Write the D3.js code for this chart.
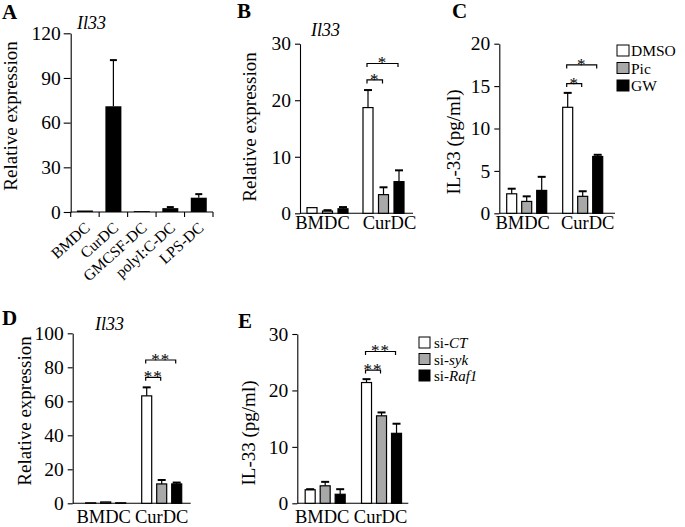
<!DOCTYPE html>
<html><head><meta charset="utf-8">
<script src="https://cdn.jsdelivr.net/npm/d3@7"></script>
<style>
body{margin:0;background:#fff;}
svg{display:block;font-family:"Liberation Serif","Times New Roman",serif;}
</style></head><body>
<svg id="c" width="685" height="527"></svg>
<script>
// ---------- data ----------
const catsA = ["BMDC", "CurDC", "GMCSF-DC", "polyI:C-DC", "LPS-DC"];
const meanA = [1.0, 71, 0.6, 2.6, 9.6];
const sdA = [0.2, 31, 0.2, 0.7, 2.4];
const ticksA = [0, 30, 60, 90, 120];

const groups = ["BMDC", "CurDC"];
const seriesC = ["DMSO", "Pic", "GW"];
const seriesE = [["si-", "CT"], ["si-", "syk"], ["si-", "Raf1"]];

const meanB = [[1.0, 0.4, 0.8], [18.7, 3.3, 5.6]];
const sdB = [[0, 0.15, 0.3], [3.1, 1.3, 2.0]];
const ticksB = [0, 10, 20, 30];

const meanC = [[2.3, 1.4, 2.7], [12.5, 2.0, 6.7]];
const sdC = [[0.6, 0.6, 1.6], [1.7, 0.6, 0.2]];
const ticksC = [0, 5, 10, 15, 20];

const meanD = [[0.3, 0.8, 0.3], [63.2, 11.4, 11.4]];
const sdD = [[0.1, 0.2, 0.1], [5.0, 2.3, 0.8]];
const ticksD = [0, 20, 40, 60, 80, 100];

const meanE = [[2.4, 3.1, 1.6], [21.4, 15.5, 12.4]];
const sdE = [[0.1, 0.7, 0.9], [0.6, 0.6, 1.7]];
const ticksE = [0, 10, 20, 30];

// significance: [label, fromSeries, toSeries] within CurDC
const sigB = [["*", 0, 2], ["*", 0, 1]];
const sigC = [["*", 0, 2], ["*", 0, 1]];
const sigD = [["**", 0, 2], ["**", 0, 1]];
const sigE = [["**", 0, 2], ["**", 0, 1]];

const fills = ["#ffffff", "#a8a8a8", "#000000"];
const FONT = "'Liberation Serif','Times New Roman',serif";

const svg = d3.select("#c").attr("font-family", FONT);

function styleAxis(sel) {
  sel.attr("font-family", FONT).attr("font-size", 19.5);
  sel.selectAll("path,line").attr("stroke", "#000").attr("stroke-width", 1.1);
  sel.selectAll("text").attr("fill", "#000");
}

function letter(t, x, y) {
  svg.append("text").attr("x", x).attr("y", y).attr("font-weight", "bold")
    .attr("font-size", 21).text(t);
}

function yTitle(t, x, y) {
  svg.append("text").attr("transform", `translate(${x},${y}) rotate(-90)`)
    .attr("text-anchor", "middle").attr("font-size", 19).text(t);
}

function gene(x, y) {
  svg.append("text").attr("x", x).attr("y", y).attr("font-style", "italic")
    .attr("font-size", 18).text("Il33");
}

function errBar(g, cx, yTop, yErr, cap) {
  if (Math.abs(yTop - yErr) < 0.5) return;
  g.append("line").attr("x1", cx).attr("x2", cx).attr("y1", yTop).attr("y2", yErr)
    .attr("stroke", "#000").attr("stroke-width", 1.2);
  g.append("line").attr("x1", cx - cap / 2).attr("x2", cx + cap / 2).attr("y1", yErr).attr("y2", yErr)
    .attr("stroke", "#000").attr("stroke-width", 2);
}

// ---------- panel A ----------
(function () {
  const g = svg.append("g");
  const cfg = { ax: 70.7, end: 213, y0: 212, y1: 33.3 };
  const y = d3.scaleLinear().domain([0, ticksA[ticksA.length - 1]]).range([cfg.y0, cfg.y1]);
  const x = d3.scaleBand().domain(catsA).range([cfg.ax, cfg.end]);
  const ya = g.append("g").attr("transform", `translate(${cfg.ax},0)`)
    .call(d3.axisLeft(y).tickValues(ticksA).tickSize(7).tickSizeOuter(0).tickPadding(3));
  styleAxis(ya);
  g.append("line").attr("x1", cfg.ax).attr("x2", cfg.end).attr("y1", y(0)).attr("y2", y(0))
    .attr("stroke", "#000").attr("stroke-width", 1.1);
  const bounds = catsA.map(c => x(c)).concat([cfg.end]);
  g.selectAll(".tk").data(bounds).join("line")
    .attr("x1", d => d).attr("x2", d => d).attr("y1", y(0)).attr("y2", y(0) + 5)
    .attr("stroke", "#000").attr("stroke-width", 1.1);
  const bw = 16;
  g.selectAll(".bar").data(catsA).join("rect")
    .attr("x", d => x(d) + x.bandwidth() / 2 - bw / 2)
    .attr("y", (d, i) => y(meanA[i]))
    .attr("width", bw)
    .attr("height", (d, i) => y(0) - y(meanA[i]))
    .attr("fill", "#000");
  catsA.forEach((c, i) => {
    errBar(g, x(c) + x.bandwidth() / 2, y(meanA[i]), y(meanA[i] + sdA[i]), 7);
  });
  g.selectAll(".xl").data(catsA).join("text")
    .attr("transform", d => `translate(${x(d) + x.bandwidth() / 2 + 6},${y(0) + 17}) rotate(-42)`)
    .attr("text-anchor", "end").attr("font-size", 15.5).text(d => d);
  letter("A", 2, 19);
  gene(77, 29);
  yTitle("Relative expression", 17, 116);
})();

// ---------- grouped panels ----------
function grouped(cfg, means, sds, ticks, sig) {
  const g = svg.append("g");
  const y = d3.scaleLinear().domain([0, ticks[ticks.length - 1]]).range([cfg.y0, cfg.y1]);
  const x = d3.scaleBand().domain(groups).range([cfg.gx0, cfg.gx1]);
  const inner = d3.scalePoint().domain([0, 1, 2]).range([-cfg.step, cfg.step]);
  const cx = (gi, s) => x(groups[gi]) + x.bandwidth() / 2 + inner(s);
  const ya = g.append("g").attr("transform", `translate(${cfg.ax},0)`)
    .call(d3.axisLeft(y).tickValues(ticks).tickSize(5).tickSizeOuter(0).tickPadding(4));
  styleAxis(ya);
  g.append("line").attr("x1", cfg.ax).attr("x2", cfg.end).attr("y1", y(0)).attr("y2", y(0))
    .attr("stroke", "#000").attr("stroke-width", 1.1);
  const flat = groups.flatMap((gr, i) => means[i].map((v, j) => ({ i, j, v, sd: sds[i][j] })));
  const bw = 10;
  g.selectAll(".bar").data(flat).join("rect")
    .attr("x", d => cx(d.i, d.j) - bw / 2)
    .attr("y", d => y(d.v))
    .attr("width", bw)
    .attr("height", d => y(0) - y(d.v))
    .attr("fill", d => fills[d.j])
    .attr("stroke", "#000").attr("stroke-width", 1.2);
  flat.forEach(d => errBar(g, cx(d.i, d.j), y(d.v), y(d.v + d.sd), 8));
  g.selectAll(".xl").data(groups).join("text")
    .attr("x", (d, i) => x(d) + x.bandwidth() / 2 + cfg.labShift[i])
    .attr("y", cfg.labY).attr("text-anchor", "middle").attr("font-size", 18.5).text(d => d);
  sig.forEach((s, k) => {
    const x1 = cx(1, s[1]) - 1, x2 = cx(1, s[2]) - 1, yy = y(cfg.sigY[k]);
    g.append("path").attr("d", `M${x1},${yy + 3.5}V${yy}H${x2}V${yy + 3.5}`)
      .attr("fill", "none").attr("stroke", "#000").attr("stroke-width", 1.2);
    g.append("text").attr("x", (x1 + x2) / 2).attr("y", yy + 5)
      .attr("text-anchor", "middle").attr("font-size", 17).attr("letter-spacing", 1)
      .attr("fill", "#000").text(s[0]);
  });
}

grouped({ ax: 300, end: 413, y0: 213.3, y1: 43.7, gx0: 299.5, gx1: 411.5, step: 15.5,
  labY: 229, labShift: [-5, 6], sigY: [26.5, 23.6] }, meanB, sdB, ticksB, sigB);
letter("B", 237, 18);
gene(311, 36);
yTitle("Relative expression", 256, 127);

grouped({ ax: 499.3, end: 615, y0: 213.3, y1: 43.7, gx0: 498.7, gx1: 610.7, step: 15,
  labY: 229, labShift: [-4, 5], sigY: [17.5, 15.3] }, meanC, sdC, ticksC, sigC);
letter("C", 452, 18);
yTitle("IL-33 (pg/ml)", 460, 142);

grouped({ ax: 72.7, end: 190.7, y0: 503.3, y1: 333.3, gx0: 77.7, gx1: 189.7, step: 15,
  labY: 523, labShift: [-2, 0], sigY: [84.3, 74.1] }, meanD, sdD, ticksD, sigD);
letter("D", 2, 325);
gene(95, 330);
yTitle("Relative expression", 31, 411);

grouped({ ax: 297.3, end: 408.3, y0: 503.3, y1: 334, gx0: 297, gx1: 409.7, step: 15,
  labY: 523, labShift: [-3, -1], sigY: [26.9, 23.6] }, meanE, sdE, ticksE, sigE);
letter("E", 238, 328);
yTitle("IL-33 (pg/ml)", 255, 433);

// ---------- legends ----------
const legC = svg.append("g");
legC.selectAll("rect").data(seriesC).join("rect")
  .attr("x", 617).attr("y", (d, i) => 45 + i * 17.5).attr("width", 12).attr("height", 11)
  .attr("fill", (d, i) => fills[i]).attr("stroke", "#000").attr("stroke-width", 1);
legC.selectAll("text").data(seriesC).join("text")
  .attr("x", 631).attr("y", (d, i) => 56 + i * 17.5).attr("font-size", 15.5).text(d => d);

const legE = svg.append("g");
legE.selectAll("rect").data(seriesE).join("rect")
  .attr("x", 419).attr("y", (d, i) => 337 + i * 16.5).attr("width", 11).attr("height", 11)
  .attr("fill", (d, i) => fills[i]).attr("stroke", "#000").attr("stroke-width", 1);
const et = legE.selectAll("text").data(seriesE).join("text")
  .attr("x", 434).attr("y", (d, i) => 348 + i * 16.5).attr("font-size", 15);
et.append("tspan").text(d => d[0]);
et.append("tspan").attr("font-style", "italic").text(d => d[1]);
</script>
</body></html>
